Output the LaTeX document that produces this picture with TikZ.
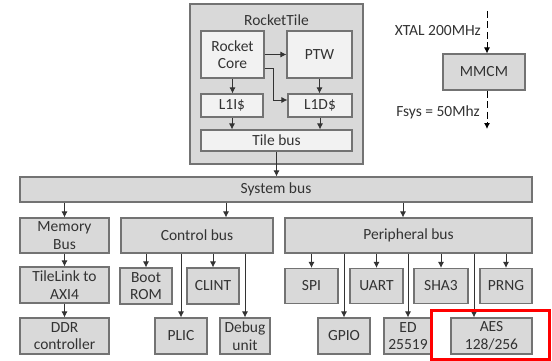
\documentclass[tikz,border=0pt]{standalone}
\usepackage{fontspec}
\setmainfont{Carlito}
\usetikzlibrary{arrows.meta,positioning,calc}

\begin{document}
\begin{tikzpicture}[x=1pt, y=-1pt,
        every node/.style={align=center, text=black!80, inner sep=0pt,
                font=\fontsize{15.5}{17.5}\selectfont},
        grayBox/.style={
                draw=black!55, fill=black!15, line width=1.1pt,
                shape=rectangle
            },
        lightBox/.style={
                draw=black!55, fill=black!5, line width=1.1pt,
                shape=rectangle
            },
        link/.style={-{Latex[length=6pt,width=6pt]}, line width=0.9pt, draw=black!80},
        clock/.style={-{Latex[length=6pt,width=6pt]}, line width=0.9pt,
                dash pattern=on 7pt off 3.5pt}
    ]

    \fill[white] (0,0) rectangle (552,361);
    \useasboundingbox (0,0) rectangle (552,361);

    % Rocket tile
    \node[grayBox, minimum width=173pt, minimum height=160pt] (tile) at (276.5,84) {};
    \node (tiletitle) at (276.5,20) {RocketTile};
    \node[lightBox, minimum width=63pt, minimum height=47pt] (core) at (232.5,54.5) {Rocket\\Core};
    \node[lightBox, minimum width=65pt, minimum height=47pt] (ptw) at (319.5,54.5) {PTW};
    \node[lightBox, minimum width=62pt, minimum height=23pt] (l1i) at (232,105.5) {L1I\$};
    \node[lightBox, minimum width=64pt, minimum height=23pt] (l1d) at (320,105.5) {L1D\$};
    \node[lightBox, minimum width=151pt, minimum height=21pt] (tilebus) at (276.5,140.5) {Tile bus};

    \draw[link] (core.east) -- (ptw.west);
    \draw[link] ([yshift=-13.5pt]core.east) -| ([xshift=-14pt,yshift=5.5pt]l1d.west) -- ([yshift=5.5pt]l1d.west);
    \draw[link] (core.south) -- (core.south |- l1i.north);
    \draw[link] (ptw.south) -- (ptw.south |- l1d.north);
    \draw[link] (l1i.south) -- (l1i.south |- tilebus.north);
    \draw[link] (l1d.south) -- (l1d.south |- tilebus.north);

    % Clock generation
    \node[grayBox, minimum width=82pt, minimum height=36pt] (mmcm) at (484,72) {MMCM};
    \coordinate (xtal) at (487,11);
    \coordinate (fsys) at (487,129);
    \draw[clock] (xtal) -- (xtal |- mmcm.north);
    \draw[clock] (xtal |- mmcm.south) -- (fsys);
    \node[anchor=east] (xtallabel) at (481,31) {XTAL 200MHz};
    \node[anchor=east] (fsyslabel) at (480,112) {Fsys = 50Mhz};

    % Buses
    \node[grayBox, minimum width=512pt, minimum height=25pt] (sysbus) at (276,189.5) {System bus};
    \node[grayBox, minimum width=89pt, minimum height=35pt] (membus) at (64.5,235.5) {Memory\\Bus};
    \node[grayBox, minimum width=152pt, minimum height=35pt] (ctrlbus) at (197,235.5) {Control bus};
    \node[grayBox, minimum width=247pt, minimum height=35pt] (periph) at (408.5,235.5) {Peripheral bus};

    \draw[link] (tilebus.south) -- (tilebus.south |- sysbus.north);
    \draw[link] (sysbus.south -| membus.north) -- (membus.north);
    \draw[link] (sysbus.south -| 226,0) -- (ctrlbus.north -| 226,0);
    \draw[link] (sysbus.south -| 403,0) -- (periph.north -| 403,0);

    % Memory path
    \node[grayBox, minimum width=89pt, minimum height=36pt] (tl2axi) at (64.5,285) {TileLink to\\AXI4};
    \node[grayBox, minimum width=89pt, minimum height=36pt] (ddr) at (64.5,336) {DDR\\controller};
    \draw[link] (membus.south) -- (tl2axi.north);
    \draw[link] (tl2axi.south) -- (ddr.north);

    % Control devices
    \node[grayBox, minimum width=52pt, minimum height=36pt] (bootrom) at (146,286) {Boot\\ROM};
    \node[grayBox, minimum width=52pt, minimum height=36pt] (clint) at (213,286) {CLINT};
    \node[grayBox, minimum width=52pt, minimum height=36pt] (plic) at (181,336) {PLIC};
    \node[grayBox, minimum width=50pt, minimum height=36pt] (debug) at (245,336) {Debug\\unit};
    \foreach \dev in {bootrom,clint,plic,debug}
        \draw[link] (ctrlbus.south -| \dev.north) -- (\dev.north);

    % Peripherals
    \node[grayBox, minimum width=53pt, minimum height=35pt] (spi) at (311.5,286) {SPI};
    \node[grayBox, minimum width=53pt, minimum height=35pt] (uart) at (376.5,286) {UART};
    \node[grayBox, minimum width=54pt, minimum height=35pt] (sha3) at (441,286) {SHA3};
    \node[grayBox, minimum width=52pt, minimum height=35pt] (prng) at (506,286) {PRNG};
    \node[grayBox, minimum width=52pt, minimum height=36pt] (gpio) at (344,336) {GPIO};
    \node[grayBox, minimum width=48pt, minimum height=36pt] (ed) at (408,336) {ED\\25519};
    \node[grayBox, minimum width=81pt, minimum height=36pt] (aes) at (491.5,336) {AES\\128/256};
    \foreach \dev in {spi,uart,sha3,prng,gpio,ed}
        \draw[link] (periph.south -| \dev.north) -- (\dev.north);
    \draw[link] (periph.south -| 474,0) -- (aes.north -| 474,0);

    % Highlight
    \node[draw=red, line width=3pt, minimum width=118pt, minimum height=49pt] (highlight) at (490,334.5) {};
\end{tikzpicture}
\end{document}
